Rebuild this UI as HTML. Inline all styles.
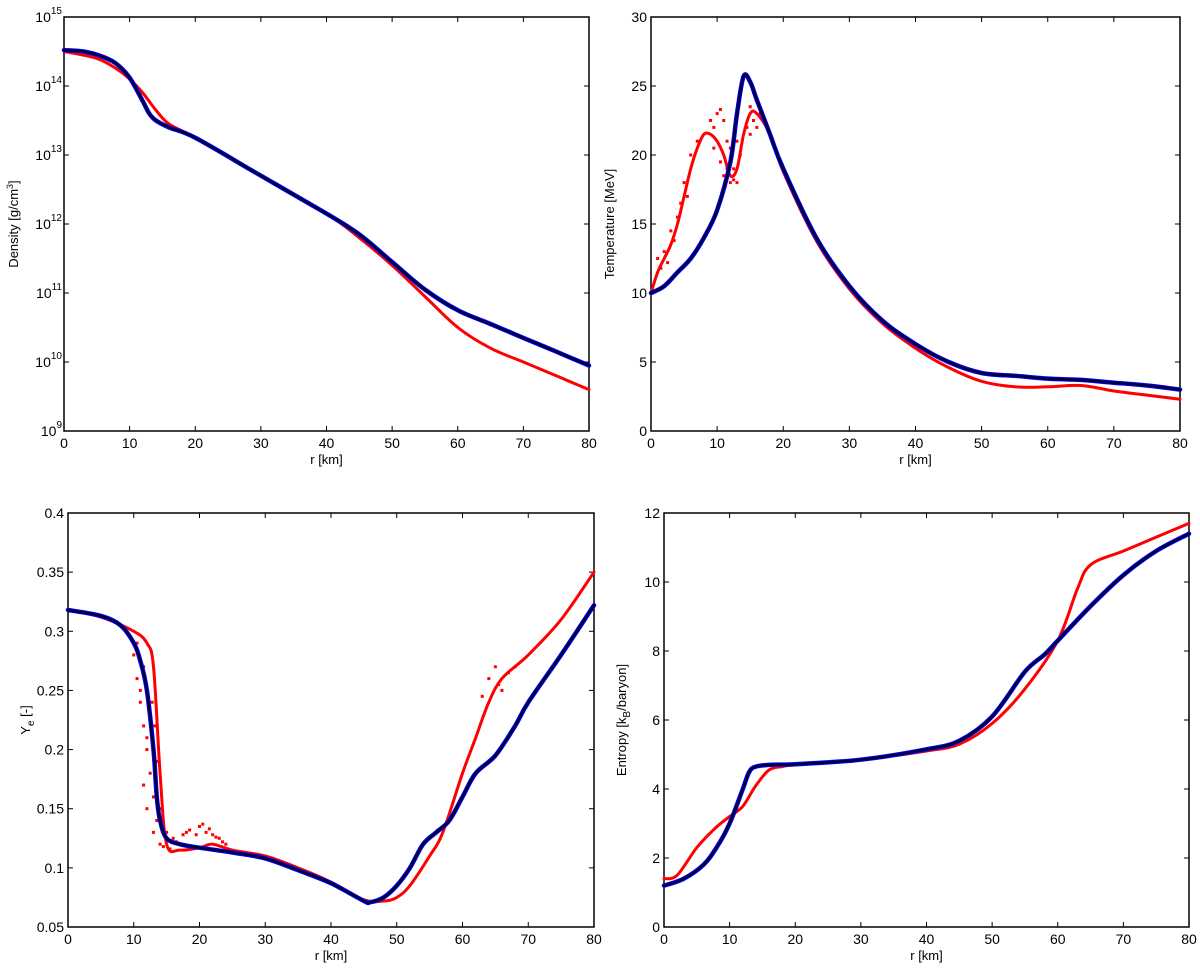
<!DOCTYPE html>
<html><head><meta charset="utf-8"><style>
body{margin:0;background:#fff;font-family:"Liberation Sans",sans-serif}
svg text{font-family:"Liberation Sans",sans-serif;fill:#000}
</style></head><body>
<svg id="s" width="1200" height="968" xmlns="http://www.w3.org/2000/svg"></svg>
<script>
const rTicks=[0,10,20,30,40,50,60,70,80];
// Density (log10 g/cm3)
const denBlueR=[0,3,6,8,10,12,13,14,16,20,30,40,45,50,55,60,65,70,75,80];
const denBlue=[14.52,14.5,14.42,14.32,14.12,13.78,13.6,13.5,13.4,13.25,12.7,12.15,11.85,11.45,11.05,10.75,10.55,10.35,10.15,9.95];
const denRedR=[0,5,8,10,12,14,16,20,30,40,45,50,55,60,65,70,75,80];
const denRed=[14.5,14.4,14.25,14.1,13.9,13.65,13.45,13.25,12.7,12.15,11.8,11.4,10.95,10.5,10.2,10.0,9.8,9.6];
// Temperature
const tempBlueR=[0,2,4,6,8,10,12,13,14,15,16,18,20,25,30,35,40,45,50,55,60,65,70,75,80];
const tempBlue=[10,10.5,11.5,12.5,14,16,19.5,23,25.7,25.3,24,21.5,19,14,10.5,8,6.3,5,4.2,4.0,3.8,3.7,3.5,3.3,3.0];
const tempRedR=[0,1,2,3,4,5,6,7,8,9,10,11,12,13,14,15,16,18,20,25,30,35,40,45,50,55,60,65,70,75,80];
const tempRed=[10,11.5,12.5,13.5,15,17,19,20.5,21.5,21.5,21,20,18.5,19,21.5,23,23,21.5,18.8,13.8,10.3,7.8,6,4.6,3.6,3.2,3.2,3.3,2.9,2.6,2.3];
const tempScatR=[1,1.5,2,2.5,3,3.5,4,4.5,5,5.5,6,7,9,9.5,10,10.5,11,11.5,12,12.5,13,13.5,15,15.5,16,16.5,17,11,12,9.5,10.5,11.5,12.5,13,14.5,15,16];
const tempScat=[12.5,11.8,13,12.2,14.5,13.8,15.5,16.5,18,17,20,21,22.5,22,23,23.3,22.5,21,20.5,19,18,20,23.5,22.5,24,23,22.5,18.5,18,20.5,19.5,19,18.2,21,22,21.5,22];
// Ye
const yeBlueR=[0,5,8,10,11,12,13,13.5,14,15,17,20,25,30,35,40,45,46,48,50,52,54,56,58,60,62,65,68,70,75,80];
const yeBlue=[0.318,0.313,0.305,0.29,0.275,0.25,0.2,0.16,0.14,0.125,0.12,0.117,0.113,0.108,0.098,0.087,0.072,0.071,0.075,0.085,0.1,0.12,0.13,0.14,0.16,0.18,0.195,0.22,0.24,0.28,0.322];
const yeRedR=[0,5,10,12,13,14,15,17,20,22,25,30,35,40,45,48,50,52,55,57,60,62,64,66,70,75,80];
const yeRed=[0.318,0.312,0.3,0.29,0.27,0.18,0.12,0.115,0.117,0.12,0.115,0.11,0.1,0.088,0.073,0.072,0.075,0.085,0.11,0.13,0.18,0.21,0.24,0.26,0.28,0.31,0.35];
const yeScatR=[10,10.5,11,11.5,12,12.5,13,13.5,14,11,12,13,14,15,16,18,20,21,22,23,24,12.5,13.5,11.5,64,65,66,10.5,11.5,12,12.8,13.2,14.5,15.5,16.5,17.5,18.5,19.5,20.5,21.5,22.5,23.5,63,65.5,67,68];
const yeScat=[0.28,0.26,0.24,0.22,0.2,0.18,0.16,0.14,0.12,0.25,0.15,0.13,0.15,0.13,0.125,0.13,0.135,0.13,0.128,0.125,0.12,0.23,0.19,0.17,0.26,0.27,0.25,0.29,0.27,0.21,0.24,0.22,0.118,0.116,0.122,0.128,0.132,0.128,0.137,0.133,0.126,0.122,0.245,0.255,0.265,0.27];
// Entropy
const entBlueR=[0,3,6,8,10,12,13,14,16,20,30,40,45,50,55,58,60,65,70,75,80];
const entBlue=[1.2,1.4,1.8,2.3,3.0,4.0,4.5,4.65,4.7,4.72,4.85,5.15,5.4,6.1,7.4,7.9,8.3,9.3,10.2,10.9,11.4];
const entRedR=[0,2,5,8,10,12,14,16,18,20,30,40,45,50,55,60,63,65,70,75,80];
const entRed=[1.4,1.5,2.3,2.9,3.2,3.5,4.1,4.55,4.65,4.7,4.85,5.1,5.3,5.9,6.9,8.3,9.8,10.5,10.9,11.3,11.7];

const S=document.getElementById('s');const NS='http://www.w3.org/2000/svg';
function mk(t,a,p){const e=document.createElementNS(NS,t);for(const k in a)e.setAttribute(k,a[k]);(p||S).appendChild(e);return e;}
function panel(name,box,ymin,ymax,yTicks,yLab,log,labX){
  const g=mk('g',{});
  
  
  const [x0,y0,x1,y1]=box;
  const X=v=>x0+(v/80)*(x1-x0);
  const Y=v=>y1-(v-ymin)/(ymax-ymin)*(y1-y0);
  mk('rect',{x:x0,y:y0,width:x1-x0,height:y1-y0,fill:'none',stroke:'#000','stroke-width':1.5},g);
  rTicks.forEach(t=>{const x=X(t);
    mk('line',{x1:x,y1:y1,x2:x,y2:y1-5,stroke:'#000'},g);mk('line',{x1:x,y1:y0,x2:x,y2:y0+5,stroke:'#000'},g);
    const tx=mk('text',{x:x,y:y1+17,'font-size':14,'text-anchor':'middle'},g);tx.textContent=t;
    
    });
  yTicks.forEach(t=>{const y=Y(t);
    mk('line',{x1:x0,y1:y,x2:x0+5,y2:y,stroke:'#000'},g);mk('line',{x1:x1,y1:y,x2:x1-5,y2:y,stroke:'#000'},g);
    const tx=mk('text',{x:x0-4,y:y+5,'font-size':14,'text-anchor':'end'},g);
    
    
    if(log){tx.setAttribute('x',x0-2);tx.textContent='10';const sp=mk('tspan',{dy:-8,'font-size':10},tx);sp.textContent=t;}
    else tx.textContent=t;});
  const xl=mk('text',{x:(x0+x1)/2,y:y1+33,'font-size':13,'text-anchor':'middle'},g);xl.textContent='r [km]';
  
  
  const yl=mk('text',{x:0,y:0,'font-size':13,'text-anchor':'middle',transform:`translate(${labX},${(y0+y1)/2}) rotate(-90)`},g);
  yl.innerHTML=yLab;
  
  
  return {g,X,Y};
}
function line(p,rs,vs,color,w,name){
  const P=rs.map((r,i)=>[p.X(r),p.Y(vs[i])]);
  let d='M'+P[0][0].toFixed(1)+','+P[0][1].toFixed(1);
  for(let i=0;i<P.length-1;i++){
    const a=P[Math.max(0,i-1)],b=P[i],c=P[i+1],e=P[Math.min(P.length-1,i+2)];
    const c1=[b[0]+(c[0]-a[0])/6,b[1]+(c[1]-a[1])/6],c2=[c[0]-(e[0]-b[0])/6,c[1]-(e[1]-b[1])/6];
    d+=` C${c1[0].toFixed(1)},${c1[1].toFixed(1)} ${c2[0].toFixed(1)},${c2[1].toFixed(1)} ${c[0].toFixed(1)},${c[1].toFixed(1)}`;
  }
  const el=mk('path',{d:d,fill:'none',stroke:color,'stroke-width':w,'stroke-linejoin':'round','stroke-linecap':'round'},p.g);
  
  
}
function scat(p,rs,vs,name){
  rs.forEach((r,i)=>{const c=mk('rect',{x:p.X(r)-1.5,y:p.Y(vs[i])-1.5,width:3,height:3,fill:'#f00'},p.g);
    
    });
}
function both(p,bR,b,rR,r){line(p,rR,r,'#f00',3,'red-series');line(p,bR,b,'#0000ff',4.5,'blue-series');line(p,bR,b,'#000033',2.5,'blue-series-core');}

const p1=panel('density-panel',[64,17,589,431],9,15,[9,10,11,12,13,14,15],'Density [g/cm<tspan dy="-5" font-size="9">3</tspan><tspan dy="5">]</tspan>',true,18);
both(p1,denBlueR,denBlue,denRedR,denRed);
const p2=panel('temperature-panel',[651,17,1180,431],0,30,[0,5,10,15,20,25,30],'Temperature [MeV]',false,614);
scat(p2,tempScatR,tempScat,'red-scatter');
both(p2,tempBlueR,tempBlue,tempRedR,tempRed);
const p3=panel('ye-panel',[68,513,594,927],0.05,0.4,[0.05,0.1,0.15,0.2,0.25,0.3,0.35,0.4],'Y<tspan dy="4" font-size="10">e</tspan><tspan dy="-4"> [-]</tspan>',false,30);
scat(p3,yeScatR,yeScat,'red-scatter');
both(p3,yeBlueR,yeBlue,yeRedR,yeRed);
const p4=panel('entropy-panel',[664,513,1189,927],0,12,[0,2,4,6,8,10,12],'Entropy [k<tspan dy="4" font-size="10">B</tspan><tspan dy="-4">/baryon]</tspan>',false,626);
both(p4,entBlueR,entBlue,entRedR,entRed);
</script>
</body></html>
